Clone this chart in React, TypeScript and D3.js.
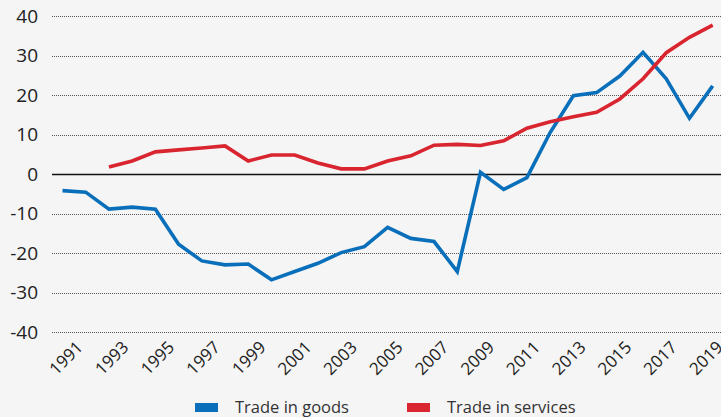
import React, { useEffect, useRef } from "react";
import * as d3 from "d3";

const years = d3.range(1991, 2020);
const goods = [
  -4.2, -4.6, -8.9, -8.4, -8.9, -17.8, -22.0, -23.0, -22.8, -26.8, -24.7, -22.6, -19.9, -18.4,
  -13.5, -16.3, -17.1, -24.7, 0.4, -3.9, -0.9, 10.5, 19.8, 20.6, 24.8, 30.8, 24.1, 14.1, 22.3,
];
const services = [
  null, null, 1.8, 3.3, 5.6, 6.1, 6.6, 7.1, 3.3, 4.8, 4.8, 2.8, 1.3, 1.3,
  3.3, 4.6, 7.3, 7.5, 7.2, 8.4, 11.6, 13.2, 14.5, 15.6, 19.0, 24.1, 30.7, 34.6, 37.7,
];
const yTicks = [40, 30, 20, 10, 0, -10, -20, -30, -40];
const tickYears = d3.range(1991, 2020, 2);
const seriesNames = ["Trade in goods", "Trade in services"];
const seriesColors = ["#0a6fba", "#d9252f"];

const W = 721;
const H = 417;
const FONT = "'Open Sans', sans-serif";

const App = () => {
  const ref = useRef<SVGSVGElement>(null);

  useEffect(() => {
    const svg = d3.select(ref.current).attr("width", W).attr("height", H);
    svg.selectAll("*").remove();

    svg.append("rect").attr("width", W).attr("height", H).attr("fill", "#f5f5f5");

    const x = d3.scaleLinear().domain([1991, 2019]).range([62.5, 712.7]);
    const xLabel = d3.scaleLinear().domain([1991, 2019]).range([66, 706]);
    const y = d3.scaleLinear().domain([-40, 40]).range([332, 16]);

    // gridlines + y labels
    yTicks.forEach((t) => {
      svg
        .append("line")
        .attr("x1", 52)
        .attr("x2", W)
        .attr("y1", Math.round(y(t)) + 0.5)
        .attr("y2", Math.round(y(t)) + 0.5)
        .attr("stroke", t === 0 ? "#111" : "#555")
        .attr("stroke-width", t === 0 ? 1.3 : 1)
        .attr("stroke-dasharray", t === 0 ? null : "1,1");

      svg
        .append("text")
        .attr("x", 38)
        .attr("y", y(t))
        .attr("dy", "0.36em")
        .attr("text-anchor", "end")
        .style("font-family", FONT)
        .style("font-size", "19px")
        .style("fill", "#222")
        .text(t);
    });

    // x labels
    tickYears.forEach((yr) => {
      svg
        .append("text")
        .attr("transform", `translate(${xLabel(yr)},${358}) rotate(-45)`)
        .attr("text-anchor", "middle")
        .attr("dy", "0.35em")
        .style("font-family", FONT)
        .style("font-size", "17px")
        .style("fill", "#222")
        .text(yr);
    });

    const line = d3
      .line<number | null>()
      .defined((d) => d !== null)
      .x((_, i) => x(years[i]))
      .y((d) => y(d as number));

    [goods, services].forEach((s, i) => {
      svg
        .append("path")
        .datum(s)
        .attr("d", line)
        .attr("fill", "none")
        .attr("stroke", seriesColors[i])
        .attr("stroke-width", 3.6)
        .attr("stroke-linejoin", "miter");
    });

    // legend
    const legendX = [195, 407];
    seriesNames.forEach((name, i) => {
      svg
        .append("rect")
        .attr("x", legendX[i])
        .attr("y", 403)
        .attr("width", 23)
        .attr("height", 9)
        .attr("fill", seriesColors[i]);
      svg
        .append("text")
        .attr("x", legendX[i] + 40)
        .attr("y", 412.5)
        .style("font-family", FONT)
        .style("font-size", "16.5px")
        .style("fill", "#333")
        .text(name);
    });
  }, []);

  return (
    <div style={{ position: "fixed", left: 0, top: 0, width: W, height: H, overflow: "hidden" }}>
      <svg ref={ref} style={{ display: "block" }}></svg>
    </div>
  );
};

export default App;
